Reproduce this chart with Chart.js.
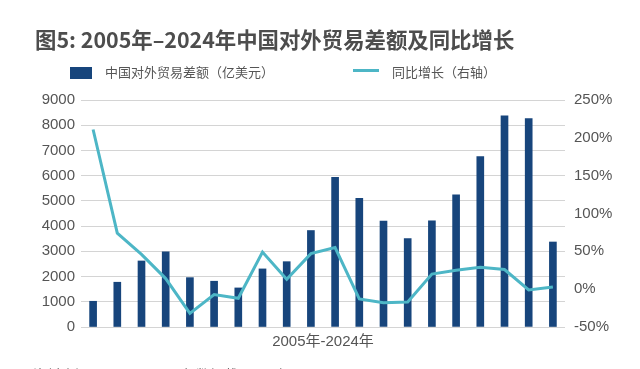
<!DOCTYPE html>
<html lang="zh">
<head>
    <meta charset="UTF-8">
    <title>图5: 2005年-2024年中国对外贸易差额及同比增长</title>
    <script src="https://cdn.jsdelivr.net/npm/chart.js"></script>
    <style>
        html, body {
            margin: 0;
            padding: 0;
            background: #fff;
        }
        .wrap {
            position: relative;
            width: 640px;
            height: 369px;
            overflow: hidden;
            font-family: "Noto Sans CJK SC", "Liberation Sans", sans-serif;
            color: #555;
        }
        #chart {
            position: absolute;
            left: 0;
            top: 0;
        }
        .title {
            position: absolute;
            left: 35px;
            top: 26px;
            font-size: 21.4px;
            font-weight: bold;
            color: #4d4d4d;
            white-space: nowrap;
            line-height: 26px;
        }
        .legend {
            position: absolute;
            top: 63px;
            font-size: 13px;
            line-height: 18px;
            white-space: nowrap;
        }
        .swatch-bar {
            position: absolute;
            left: 70px;
            top: 67px;
            width: 22px;
            height: 12px;
            background: #17457c;
        }
        .swatch-line {
            position: absolute;
            left: 353px;
            top: 69px;
            width: 26px;
            height: 3px;
            background: #4db6c6;
        }
        .xtitle {
            position: absolute;
            left: 0;
            width: 646px;
            top: 332px;
            text-align: center;
            font-family: "Liberation Sans", "Noto Sans CJK SC", sans-serif;
            font-size: 15px;
            line-height: 18px;
        }
        .source {
            position: absolute;
            left: 33px;
            top: 364px;
            font-size: 14px;
            color: #666;
            white-space: nowrap;
        }
    </style>
</head>
<body>
<div class="wrap">
    <canvas id="chart" width="640" height="369"></canvas>
    <div class="title">图5: 2005年–2024年中国对外贸易差额及同比增长</div>
    <div class="swatch-bar"></div>
    <div class="legend" style="left:105px">中国对外贸易差额（亿美元）</div>
    <div class="swatch-line"></div>
    <div class="legend" style="left:392px">同比增长（右轴）</div>
    <div class="xtitle">2005年-2024年</div>
    <div class="source">资料来源：GTAS，2024年数据截至8月末</div>
</div>
<script>
    // 年份 2005-2024
    const years = ['2005', '2006', '2007', '2008', '2009', '2010', '2011', '2012', '2013', '2014',
                   '2015', '2016', '2017', '2018', '2019', '2020', '2021', '2022', '2023', '2024'];
    // 贸易差额（亿美元）
    const balance = [1020, 1775, 2618, 2981, 1957, 1815, 1549, 2303, 2590, 3825,
                     5930, 5097, 4196, 3509, 4210, 5240, 6760, 8370, 8260, 3370];
    // 同比增长（%）
    const growth = [211, 74, 46, 14, -32, -7, -12, 49, 13, 47,
                    55, -13, -18, -17, 20, 25, 29, 26, -1, 3];

    const leftTicks = { min: 0, max: 9000, step: 1000 };
    const rightTicks = { min: -50, max: 250, step: 50 };

    const tickFont = { family: '"Liberation Sans", sans-serif', size: 15 };

    new Chart(document.getElementById('chart'), {
        data: {
            labels: years,
            datasets: [
                {
                    type: 'line',
                    label: '同比增长(右轴)',
                    data: growth,
                    yAxisID: 'y1',
                    borderColor: '#4db6c6',
                    borderWidth: 3,
                    pointRadius: 0,
                    tension: 0,
                    order: 1
                },
                {
                    type: 'bar',
                    label: '中国对外贸易差额(亿美元)',
                    data: balance,
                    yAxisID: 'y',
                    backgroundColor: '#17457c',
                    barThickness: 7,
                    order: 2
                }
            ]
        },
        options: {
            responsive: false,
            animation: false,
            layout: { padding: { top: 100, left: 0, right: 0, bottom: 0 } },
            plugins: {
                legend: { display: false },
                tooltip: { enabled: false }
            },
            scales: {
                x: {
                    offset: true,
                    grid: { display: false },
                    border: { display: false },
                    ticks: { display: false },
                    afterFit: (s) => { s.height = 42; }
                },
                y: {
                    position: 'left',
                    min: leftTicks.min,
                    max: leftTicks.max,
                    ticks: {
                        stepSize: leftTicks.step,
                        color: '#555',
                        font: tickFont,
                        padding: 6,
                        callback: (v) => String(v)
                    },
                    grid: { color: '#d4d4d4', lineWidth: 1, drawTicks: false },
                    border: { display: false },
                    afterFit: (s) => { s.width = 81; }
                },
                y1: {
                    position: 'right',
                    min: rightTicks.min,
                    max: rightTicks.max,
                    ticks: {
                        stepSize: rightTicks.step,
                        color: '#555',
                        font: tickFont,
                        padding: 9,
                        callback: (v) => v + '%'
                    },
                    grid: { display: false, drawTicks: false },
                    border: { display: false },
                    afterFit: (s) => { s.width = 75; }
                }
            }
        }
    });
</script>
</body>
</html>
